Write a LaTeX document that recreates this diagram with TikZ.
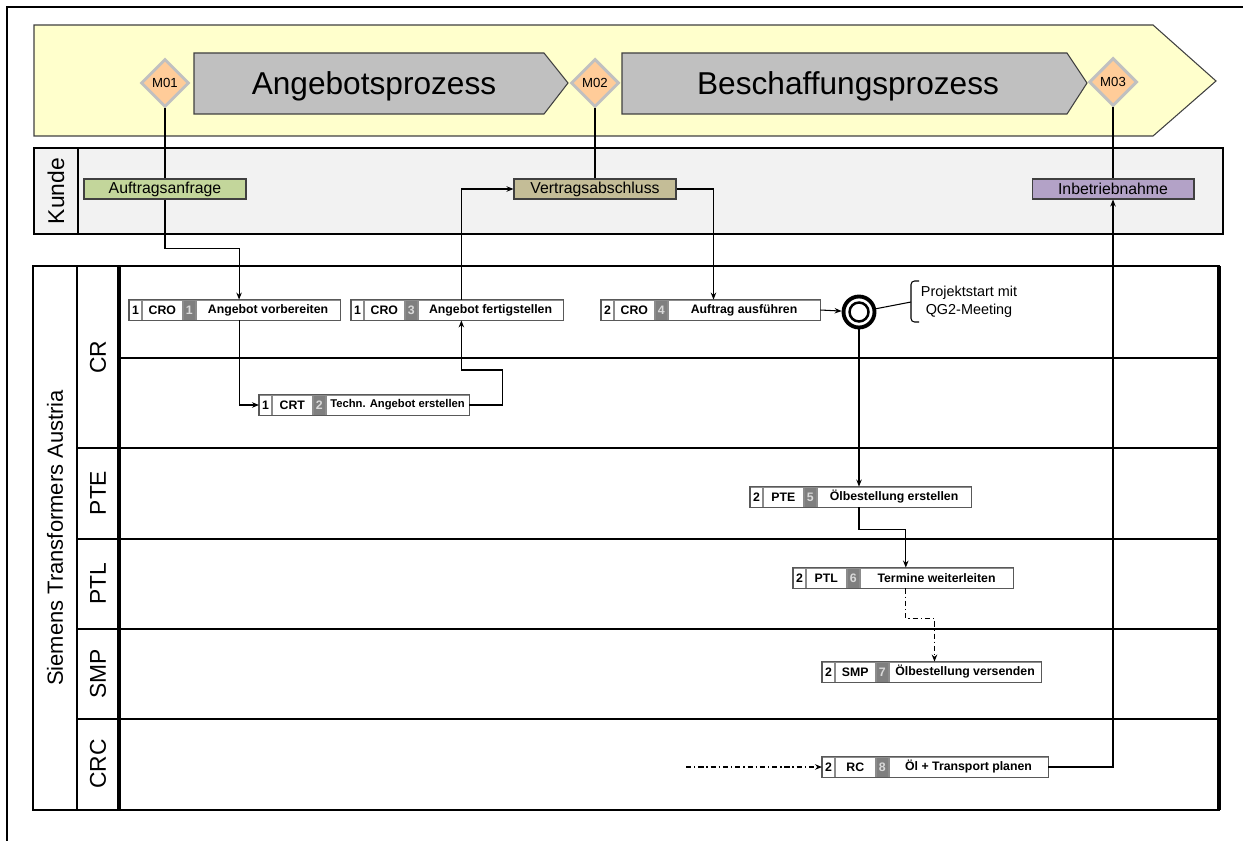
\documentclass[tikz,border=0pt]{standalone}
\usepackage{fontspec}
\setmainfont{Liberation Sans}
\usetikzlibrary{calc,arrows.meta,positioning,shapes.geometric}
\definecolor{bannerc}{HTML}{FFFFCC}
\definecolor{chevc}{HTML}{C0C0C0}
\definecolor{msfill}{HTML}{FFCC99}
\definecolor{msedge}{HTML}{C0C0C0}
\definecolor{lanebg}{HTML}{F2F2F2}
\definecolor{greenc}{HTML}{C3D69B}
\definecolor{tanc}{HTML}{C4BD97}
\definecolor{lilac}{HTML}{B3A2C7}
\definecolor{cellgray}{HTML}{7F7F7F}
\definecolor{edgec}{HTML}{404040}
\tikzset{
  ln/.style={black,line width=0.6pt},
  ar/.style={ln,-{Stealth[length=1.4mm,width=1.1mm]}},
  ardd/.style={ar,dash pattern=on 3pt off 1.6pt on 0.8pt off 1.6pt},
  ms/.style={diamond,aspect=1,draw=msedge,line width=1.7pt,fill=msfill,minimum size=0.96cm,inner sep=0pt,font=\fontsize{7.5}{8}\selectfont},
  kbox/.style={draw=edgec,line width=0.6pt,minimum width=3.24cm,minimum height=0.4cm,inner sep=0pt,font=\fontsize{9}{10}\selectfont},
  lbl/.style={rotate=90,font=\fontsize{13}{14}\selectfont},
  cell/.style={draw=black!45,line width=0.5pt,fill=white,minimum height=0.4cm,inner sep=0pt,font=\fontsize{7}{8}\selectfont\bfseries},
  ncell/.style={cell,fill=cellgray,text=black!15},
  evt/.style={circle,draw,line width=2.2pt,fill=white,minimum size=0.62cm,inner sep=0pt}
}
% task box: name, x, y, phase, role, number, text, text cell width
\newcommand{\taskbox}[8]{%
  \node[cell,minimum width=0.24cm,anchor=west] (#1p) at (#2,#3) {#4};
  \node[cell,minimum width=0.8cm,right=0pt of #1p] (#1r) {#5};
  \node[ncell,minimum width=0.24cm,right=0pt of #1r] (#1n) {#6};
  \node[cell,minimum width=#8,right=0pt of #1n] (#1) {#7};
  \draw[black!65,line width=0.6pt] (#1p.north west) rectangle (#1.south east);
  \coordinate (#1x) at ($(#1.west)!.3!(#1.east)$);
}

\begin{document}
\begin{tikzpicture}[x=0.02cm,y=-0.02cm]
\useasboundingbox (0,0) rectangle (1243,841);
\draw[line width=1.1pt] (7,841) -- (7,7) -- (1243,7);

% phase banner
\draw[edgec,line width=0.6pt,fill=bannerc] (34,25) -- (1153,25) -- (1216,81) -- (1153,136) -- (34,136) -- cycle;
\draw[edgec,line width=0.6pt,fill=chevc] (194,53) -- (544,53) -- (568,83) -- (544,114) -- (194,114) -- cycle;
\draw[edgec,line width=0.6pt,fill=chevc] (622,53) -- (1067,53) -- (1087,83) -- (1067,114) -- (622,114) -- cycle;
\node[font=\fontsize{18}{20}\selectfont,anchor=base] (ph1) at (374,95) {Angebotsprozess};
\node[font=\fontsize{18}{20}\selectfont,anchor=base] (ph2) at (848,95) {Beschaffungsprozess};
\node[ms] (m1) at (165,83) {M01};
\node[ms] (m2) at (595,83) {M02};
\node[ms] (m3) at (1113,82) {M03};

% customer lane
\draw[line width=1.1pt,fill=lanebg] (34,148) rectangle (1223,234);
\draw[line width=1.1pt] (78,148) -- (78,234);
\node[lbl] (kunde) at (56,191) {Kunde};
\node[kbox,fill=greenc] (anfrage) at (165,189) {Auftragsanfrage};
\node[kbox,fill=tanc] (vertrag) at (595,189) {Vertragsabschluss};
\node[kbox,fill=lilac] (inbetrieb) at (1113,189) {Inbetriebnahme};

% pool with lanes
\draw[line width=1.1pt] (33,266) rectangle (1219,810);
\draw[line width=1.8pt] (1219,266) -- (1219,810);
\draw[line width=1.1pt] (77,266) -- (77,810);
\draw[line width=1.8pt] (119,266) -- (119,810);
\foreach \y in {448,539,629,719}
  \draw[line width=1.1pt] (77,\y) -- (1219,\y);
\draw[line width=1.1pt] (119,358) -- (1219,358);
\node[lbl,font=\fontsize{12.5}{14}\selectfont] (pool) at (55,538) {Siemens Transformers Austria};
\node[lbl] (lcr) at (98,357) {CR};
\node[lbl] (lpte) at (98,493) {PTE};
\node[lbl] (lptl) at (98,584) {PTL};
\node[lbl] (lsmp) at (98,674) {SMP};
\node[lbl] (lcrc) at (98,764) {CRC};

% tasks
\taskbox{t1}{129}{310}{1}{CRO}{1}{Angebot vorbereiten}{2.88cm}
\taskbox{t2}{259}{405}{1}{CRT}{2}{\fontsize{6.4}{7}\selectfont Techn. Angebot erstellen}{2.86cm}
\taskbox{t3}{351}{310}{1}{CRO}{3}{Angebot fertigstellen}{2.9cm}
\taskbox{t4}{601}{310}{2}{CRO}{4}{Auftrag ausführen}{3.04cm}
\taskbox{t5}{750}{497}{2}{PTE}{5}{Ölbestellung erstellen}{3.08cm}
\taskbox{t6}{793}{578}{2}{PTL}{6}{Termine weiterleiten}{3.06cm}
\taskbox{t7}{822}{672}{2}{SMP}{7}{Ölbestellung versenden}{3.04cm}
\taskbox{t8}{822}{767}{2}{RC}{8}{Öl + Transport planen}{3.18cm}

\node[evt] (evt) at (859,312) {};
\draw[line width=1.4pt] (evt.center) circle[radius=0.19cm];
\coordinate (brk) at (911,302);
\draw[ln,rounded corners=2pt] (919,281) -- (911,281) -- (911,322) -- (919,322);
\node[font=\fontsize{8.2}{10.2}\selectfont,align=center] (note) at (969,302) {Projektstart mit\\QG2-Meeting};
\coordinate (src) at (686,767);

% flow
\draw[ln] (m1) -- (anfrage);
\draw[ln] (m2) -- (vertrag);
\draw[ln] (m3) -- (inbetrieb);
\draw[ar] (anfrage.south) -- ++(0,49) -| (t1x |- t1.north);
\draw[ar] (t1x |- t1.south) |- (t2p.west);
\draw[ar] (t2.east) -- ++(33,0) -- ++(0,-35) -| (t3x |- t3.south);
\draw[ar] (t3x |- t3.north) |- (vertrag.west);
\draw[ar] (vertrag.east) -| (t4x |- t4.north);
\draw[ar] (t4.east) -- (evt);
\draw[ln] (evt) -- (brk);
\draw[ar] (evt.south) -- (evt.south |- t5.north);
\draw[ar] (evt.south |- t5.south) -- ++(0,22) -| (t6x |- t6.north);
\draw[ardd] (t6x |- t6.south) -- ++(0,30) -| (t7x |- t7.north);
\draw[ardd] (src) -- (t8p.west);
\draw[ar] (t8.east) -| (inbetrieb.south);
\end{tikzpicture}
\end{document}
